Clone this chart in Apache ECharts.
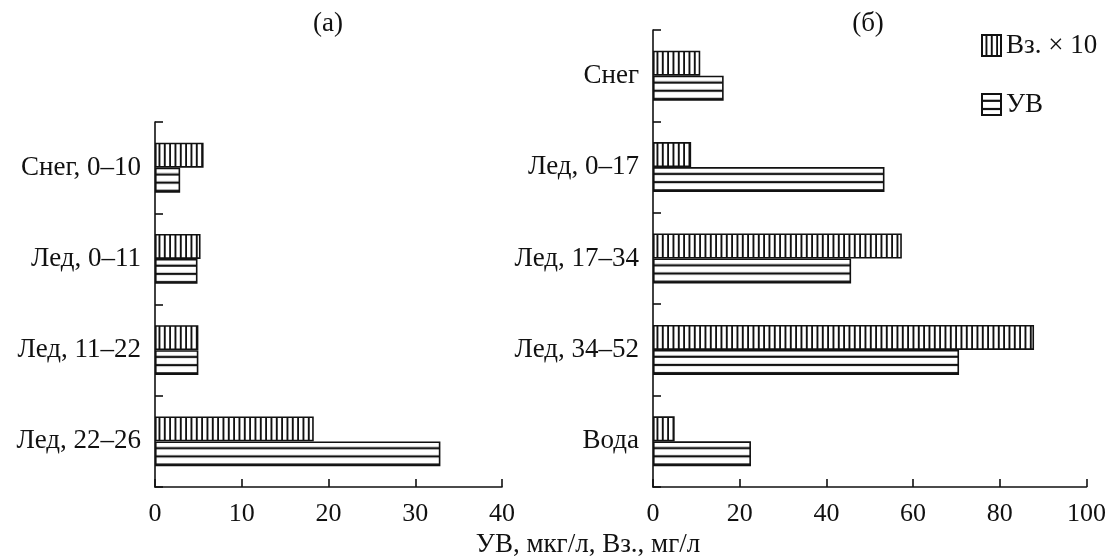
<!DOCTYPE html>
<html><head><meta charset="utf-8">
<script src="https://cdn.jsdelivr.net/npm/echarts@6/dist/echarts.min.js"></script>
<style>html,body{margin:0;padding:0;background:#fff}#c{width:1109px;height:556px}</style>
</head><body><div id="c"></div>
<script>
const catsA = ['Снег, 0–10', 'Лед, 0–11', 'Лед, 11–22', 'Лед, 22–26'];
const uvA = [2.9, 4.9, 5.0, 32.9];
const vzA = [5.6, 5.25, 5.0, 18.3];
const catsB = ['Снег', 'Лед, 0–17', 'Лед, 17–34', 'Лед, 34–52', 'Вода'];
const uvB = [16.3, 53.4, 45.7, 70.6, 22.6];
const vzB = [10.9, 8.8, 57.4, 87.9, 5.0];
const axisA = {min: 0, max: 40, interval: 10};
const axisB = {min: 0, max: 100, interval: 20};
const nameUV = 'УВ';
const nameVz = 'Вз. × 10';

const FONT = 'Liberation Serif, Times New Roman, serif';
const INK = '#111';

function vCanvas() {
  const c = document.createElement('canvas'); c.width = 16; c.height = 4;
  const g = c.getContext('2d'); g.fillStyle = '#fff'; g.fillRect(0, 0, 16, 4);
  g.fillStyle = INK; [0, 5.33, 10.67].forEach(x => g.fillRect(x + 3.5, 0, 1.9, 4));
  return c;
}
function hCanvas(h) {
  const c = document.createElement('canvas'); c.width = 4; c.height = h;
  const g = c.getContext('2d'); g.fillStyle = '#fff'; g.fillRect(0, 0, 4, h);
  g.fillStyle = INK; [6.8, 15, 23.2].forEach(y => g.fillRect(0, y - 1.1, 4, 2.2));
  return c;
}
const VC = vCanvas(), HC = hCanvas(25);
const vPat = (x, y) => ({image: VC, repeat: 'repeat', x: x || 0, y: y || 0});
const hPat = (x, y) => ({image: HC, repeat: 'repeat', x: x || 0, y: y || 0});

const axisLine = {show: true, lineStyle: {color: INK, width: 1.6}};
const axisTick = {show: true, inside: true, length: 8, lineStyle: {color: INK, width: 1.6}};
const tickLbl = {fontFamily: FONT, fontSize: 26, color: INK};
const catLbl = {fontFamily: FONT, fontSize: 27, color: INK};

function xAx(g, a) {
  return Object.assign({gridIndex: g, type: 'value', axisLine, axisTick,
    splitLine: {show: false}, axisLabel: Object.assign({margin: 14}, tickLbl)}, a);
}
function yAx(g, cats) {
  return {gridIndex: g, type: 'category', inverse: true, data: cats, axisLine, axisTick,
    axisLabel: Object.assign({margin: 14}, catLbl)};
}
function ser(name, g, data, pat) {
  return {type: 'bar', name, xAxisIndex: g, yAxisIndex: g, data: data.slice(),
    barWidth: 25, barGap: '0%',
    itemStyle: {color: pat(), borderColor: INK, borderWidth: 1.6}};
}

const chart = echarts.init(document.getElementById('c'), null, {renderer: 'canvas'});
const option = {
  animation: false,
  backgroundColor: '#fff',
  grid: [
    {left: 155, right: 607, top: 122, bottom: 69},
    {left: 653, right: 22, top: 30, bottom: 69}
  ],
  xAxis: [xAx(0, axisA), xAx(1, axisB)],
  yAxis: [yAx(0, catsA), yAx(1, catsB)],
  legend: {
    orient: 'vertical', left: 981, top: 32, padding: 0, itemWidth: 19, itemHeight: 21, itemGap: 32,
    icon: 'rect', textStyle: {fontFamily: FONT, fontSize: 27, color: INK},
    data: [{name: nameVz}, {name: nameUV}]
  },
  graphic: [
    {type: 'text', x: 328, y: 24, style: {text: '(a)', fontFamily: FONT, fontSize: 27, fill: INK, align: 'center', verticalAlign: 'middle'}},
    {type: 'text', x: 868, y: 24, style: {text: '(б)', fontFamily: FONT, fontSize: 27, fill: INK, align: 'center', verticalAlign: 'middle'}},
    {type: 'text', x: 588, y: 545, style: {text: 'УВ, мкг/л, Вз., мг/л', fontFamily: FONT, fontSize: 27, fill: INK, align: 'center', verticalAlign: 'middle'}}
  ],
  series: [
    ser(nameVz, 0, vzA, vPat),
    ser(nameUV, 0, uvA, hPat),
    ser(nameVz, 1, vzB, vPat),
    ser(nameUV, 1, uvB, hPat)
  ]
};
chart.setOption(option);

// align stripe patterns with each bar's own edges (layout taken from ECharts)
const srcs = [vzA, uvA, vzB, uvB];
const upd = srcs.map((arr, s) => {
  const d = chart.getModel().getSeriesByIndex(s).getData();
  const isH = s % 2 === 1;
  return {data: arr.map((v, i) => {
    const L = d.getItemLayout(i);
    const y0 = Math.min(L.y, L.y + L.height), x0 = Math.min(L.x, L.x + L.width);
    return {value: v, itemStyle: {color: isH ? hPat(x0, y0) : vPat(x0, y0)}};
  })};
});
chart.setOption({series: upd});
</script></body></html>
